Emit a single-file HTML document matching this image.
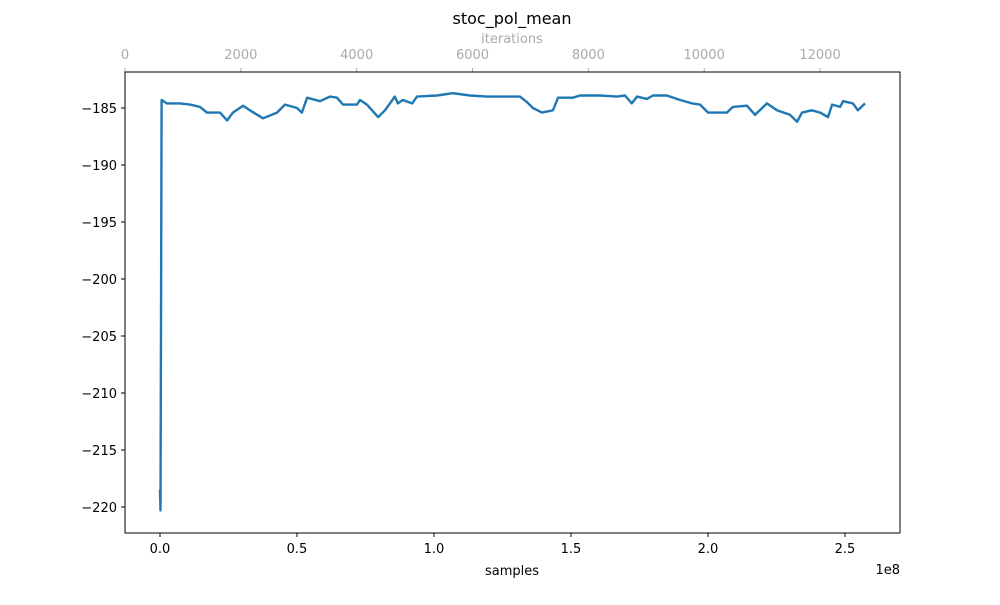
<!DOCTYPE html>
<html><head><meta charset="utf-8"><style>
body{margin:0;background:#fff;font-family:"Liberation Sans","DejaVu Sans",sans-serif}
svg text{font-family:"DejaVu Sans","Liberation Sans",sans-serif}
</style></head><body>
<svg id="chart" width="1000" height="600" xmlns="http://www.w3.org/2000/svg">
<rect width="1000" height="600" fill="#fff"/>
<text x="512" y="24" font-size="16" text-anchor="middle">stoc_pol_mean</text>
<text x="512" y="43" font-size="13" fill="#aaa" text-anchor="middle">iterations</text>
<text x="512" y="575" font-size="13" text-anchor="middle">samples</text>
<text x="900" y="574" font-size="13" text-anchor="end">1e8</text>
<g id="axes"></g>
<path id="line" fill="none" stroke="#1f77b4" stroke-width="2.4" stroke-linejoin="round"/>
<rect x="125" y="72" width="775" height="461" fill="none" stroke="#000" stroke-width="1"/>
</svg>
<script>
const samples=[0,0.002,0.006,0.025,0.073,0.110,0.146,0.171,0.219,0.245,0.266,0.303,0.328,0.376,0.427,0.456,0.500,0.518,0.537,0.584,0.620,0.646,0.668,0.719,0.730,0.755,0.796,0.821,0.857,0.868,0.886,0.920,0.938,1.011,1.069,1.131,1.194,1.252,1.314,1.340,1.361,1.394,1.434,1.453,1.507,1.533,1.606,1.668,1.697,1.722,1.741,1.777,1.799,1.850,1.898,1.942,1.971,2.000,2.044,2.069,2.091,2.142,2.172,2.215,2.252,2.299,2.325,2.343,2.379,2.409,2.438,2.453,2.482,2.493,2.529,2.547,2.573];
const values=[-218.5,-220.3,-184.3,-184.6,-184.6,-184.7,-184.9,-185.4,-185.4,-186.1,-185.4,-184.8,-185.2,-185.9,-185.4,-184.7,-185.0,-185.4,-184.1,-184.4,-184.0,-184.1,-184.7,-184.7,-184.3,-184.7,-185.8,-185.2,-184.0,-184.6,-184.3,-184.6,-184.0,-183.9,-183.7,-183.9,-184.0,-184.0,-184.0,-184.5,-185.0,-185.4,-185.2,-184.1,-184.1,-183.9,-183.9,-184.0,-183.9,-184.6,-184.0,-184.2,-183.9,-183.9,-184.3,-184.6,-184.7,-185.4,-185.4,-185.4,-184.9,-184.8,-185.6,-184.6,-185.2,-185.6,-186.2,-185.4,-185.2,-185.4,-185.8,-184.7,-184.9,-184.4,-184.6,-185.2,-184.6];
const yTicks=[-185,-190,-195,-200,-205,-210,-215,-220];
const xTicks=[0,0.5,1.0,1.5,2.0,2.5];
const topTicks=[0,2000,4000,6000,8000,10000,12000];
const X=s=>160+s*274;
const Y=v=>108+(-185-v)*11.4;
const T=it=>125+it*0.05792;
const NS='http://www.w3.org/2000/svg';
const g=document.getElementById('axes');
function mk(tag,attrs,txt){const e=document.createElementNS(NS,tag);for(const k in attrs)e.setAttribute(k,attrs[k]);if(txt!==undefined)e.textContent=txt;g.appendChild(e);return e;}
yTicks.forEach(v=>{
 const l=mk('line',{x1:121,x2:125,y1:Y(v),y2:Y(v),stroke:'#000'});
 
 
 const t=mk('text',{x:117,y:Y(v)+5,'font-size':13,'text-anchor':'end'},'\u2212'+Math.abs(v));
 
 
});
xTicks.forEach(s=>{
 const l=mk('line',{x1:X(s),x2:X(s),y1:533,y2:537,stroke:'#000'});
 
 
 const t=mk('text',{x:X(s),y:553,'font-size':13,'text-anchor':'middle'},s.toFixed(1));
 
 
});
topTicks.forEach(it=>{
 const l=mk('line',{x1:T(it),x2:T(it),y1:68,y2:72,stroke:'#aaa'});
 
 
 const t=mk('text',{x:T(it),y:59,'font-size':13,fill:'#aaa','text-anchor':'middle'},String(it));
 
 
});
document.getElementById('line').setAttribute('d',samples.map((s,i)=>(i?'L':'M')+X(s).toFixed(1)+' '+Y(values[i]).toFixed(1)).join(' '));
</script>
</body></html>
